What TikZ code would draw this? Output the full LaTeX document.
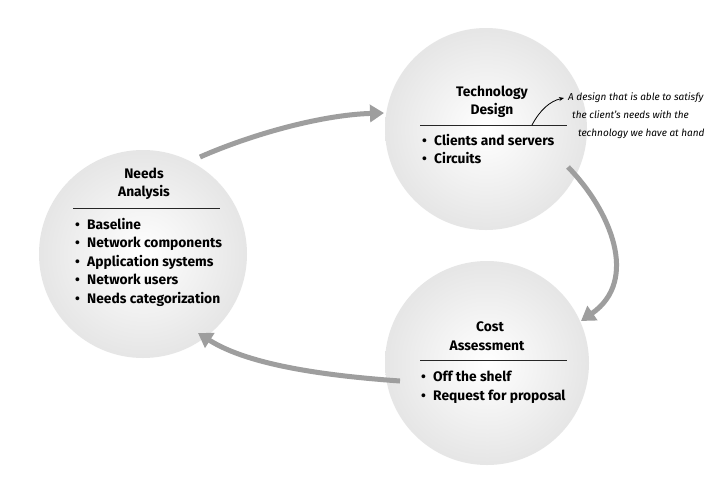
\documentclass[tikz,border=0pt]{standalone}
\usepackage{fontspec}
\setmainfont{Fira Sans}
\usetikzlibrary{arrows.meta,calc}
\begin{document}
\begin{tikzpicture}[x=1pt,y=-1pt,
  ball/.style={circle, minimum size=#1, inner sep=0pt, inner color=white, outer color=black!10},
  ttl/.style={font=\fontsize{13.8}{18}\selectfont\bfseries, anchor=base, inner sep=0pt},
  itm/.style={font=\fontsize{13.8}{18}\selectfont\bfseries, anchor=base west, inner sep=0pt},
  note/.style={font=\fontsize{10}{18}\selectfont\itshape, anchor=base west, inner sep=0pt},
  flow/.style={line width=5pt, draw=black!38, -{Triangle[length=14pt,width=17pt]}},
  sep/.style={line width=0.8pt, draw=black!85}]
\useasboundingbox (0,0) rectangle (722,480);
\fill[white] (0,0) rectangle (722,480);

% circles
\node[ball=208pt] (na) at (143,254) {};
\node[ball=202pt] (td) at (486,129) {};
\node[ball=204pt] (ca) at (487,363) {};

% Needs Analysis
\node[ttl] (na1) at (144,178) {Needs};
\node[ttl] (na2) at (144,196.5) {Analysis};
\draw[sep] (73,208) -- (220,208);
\node[itm] (nb1) at (75,229) {\makebox[12pt][l]{•}Baseline};
\node[itm] (nb2) at (75,247.5) {\makebox[12pt][l]{•}Network components};
\node[itm] (nb3) at (75,266) {\makebox[12pt][l]{•}Application systems};
\node[itm] (nb4) at (75,284.5) {\makebox[12pt][l]{•}Network users};
\node[itm] (nb5) at (75,303) {\makebox[12pt][l]{•}Needs categorization};

% Technology Design
\node[ttl] (td1) at (492,96.5) {Technology};
\node[ttl] (td2) at (492,114) {Design};
\coordinate (tdl) at (420,125);
\coordinate (tdr) at (567,125);
\draw[sep] (tdl) -- (tdr);
\node[itm] (tb1) at (422,145) {\makebox[12pt][l]{•}Clients and servers};
\node[itm] (tb2) at (422,163) {\makebox[12pt][l]{•}Circuits};

% Cost Assessment
\node[ttl] (ca1) at (490,331.5) {Cost};
\node[ttl] (ca2) at (487,350) {Assessment};
\draw[sep] (420,360) -- (567,360);
\node[itm] (cb1) at (421,381.5) {\makebox[12pt][l]{•}Off the shelf};
\node[itm] (cb2) at (421,400) {\makebox[12pt][l]{•}Request for proposal};

% annotation
\node[note] (an1) at (568,100) {A design that is able to satisfy};
\node[note] (an2) at (572,118) {the client's needs with the};
\node[note] (an3) at (578,136) {technology we have at hand};
\coordinate (ans) at (532,125);
\coordinate (ane) at (564,98);
\draw[line width=0.8pt, -{Stealth[length=5pt,width=4pt]}] (ans) .. controls (540,110) and (550,101) .. (ane);

% flow arrows
\coordinate (a1s) at ($(na)+(57,-97)$);
\coordinate (a1e) at ($(td)+(-102,-16)$);
\coordinate (a2s) at ($(td)+(82,38)$);
\coordinate (a2e) at ($(ca)+(94,-42)$);
\coordinate (a3s) at ($(ca)+(-87,18)$);
\coordinate (a3e) at ($(na)+(55,79)$);
\draw[flow] (a1s) .. controls (250,135) and (320,115) .. (a1e);
\draw[flow] (a2s) .. controls (610,210) and (640,280) .. (a2e);
\draw[flow] (a3s) .. controls (330,376) and (250,366) .. (a3e);
\end{tikzpicture}
\end{document}
